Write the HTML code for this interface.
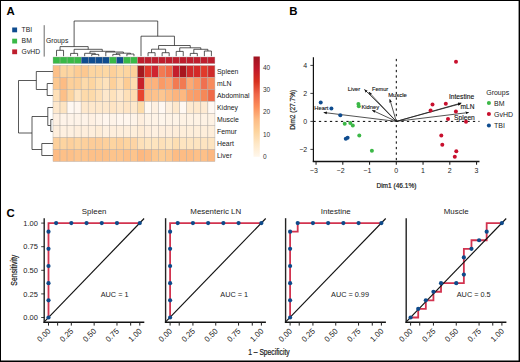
<!DOCTYPE html>
<html><head><meta charset="utf-8"><style>
html,body{margin:0;padding:0;background:#fff;}
#fig{position:relative;width:520px;height:362px;overflow:hidden;background:#fff;}
svg{position:absolute;left:0;top:0;font-family:"Liberation Sans", sans-serif;}
#bd{position:absolute;left:0;top:0;width:518px;height:360px;border:1px solid #000;box-shadow:inset -0.4px -0.4px 0 #000;}
</style></head><body><div id="fig">
<svg width="520" height="362" viewBox="0 0 520 362">
<rect x="53.00" y="57" width="7.04" height="6.6" fill="#39b947" stroke="#b4aea8" stroke-width="0.35"/>
<rect x="60.04" y="57" width="7.04" height="6.6" fill="#39b947" stroke="#b4aea8" stroke-width="0.35"/>
<rect x="67.08" y="57" width="7.04" height="6.6" fill="#39b947" stroke="#b4aea8" stroke-width="0.35"/>
<rect x="74.12" y="57" width="7.04" height="6.6" fill="#39b947" stroke="#b4aea8" stroke-width="0.35"/>
<rect x="81.16" y="57" width="7.04" height="6.6" fill="#0f4c8f" stroke="#b4aea8" stroke-width="0.35"/>
<rect x="88.20" y="57" width="7.04" height="6.6" fill="#0f4c8f" stroke="#b4aea8" stroke-width="0.35"/>
<rect x="95.24" y="57" width="7.04" height="6.6" fill="#0f4c8f" stroke="#b4aea8" stroke-width="0.35"/>
<rect x="102.28" y="57" width="7.04" height="6.6" fill="#0f4c8f" stroke="#b4aea8" stroke-width="0.35"/>
<rect x="109.32" y="57" width="7.04" height="6.6" fill="#39b947" stroke="#b4aea8" stroke-width="0.35"/>
<rect x="116.36" y="57" width="7.04" height="6.6" fill="#0f4c8f" stroke="#b4aea8" stroke-width="0.35"/>
<rect x="123.40" y="57" width="7.04" height="6.6" fill="#39b947" stroke="#b4aea8" stroke-width="0.35"/>
<rect x="130.44" y="57" width="7.04" height="6.6" fill="#39b947" stroke="#b4aea8" stroke-width="0.35"/>
<rect x="137.48" y="57" width="7.04" height="6.6" fill="#be1e2d" stroke="#b4aea8" stroke-width="0.35"/>
<rect x="144.52" y="57" width="7.04" height="6.6" fill="#be1e2d" stroke="#b4aea8" stroke-width="0.35"/>
<rect x="151.56" y="57" width="7.04" height="6.6" fill="#be1e2d" stroke="#b4aea8" stroke-width="0.35"/>
<rect x="158.60" y="57" width="7.04" height="6.6" fill="#be1e2d" stroke="#b4aea8" stroke-width="0.35"/>
<rect x="165.64" y="57" width="7.04" height="6.6" fill="#be1e2d" stroke="#b4aea8" stroke-width="0.35"/>
<rect x="172.68" y="57" width="7.04" height="6.6" fill="#be1e2d" stroke="#b4aea8" stroke-width="0.35"/>
<rect x="179.72" y="57" width="7.04" height="6.6" fill="#be1e2d" stroke="#b4aea8" stroke-width="0.35"/>
<rect x="186.76" y="57" width="7.04" height="6.6" fill="#be1e2d" stroke="#b4aea8" stroke-width="0.35"/>
<rect x="193.80" y="57" width="7.04" height="6.6" fill="#be1e2d" stroke="#b4aea8" stroke-width="0.35"/>
<rect x="200.84" y="57" width="7.04" height="6.6" fill="#be1e2d" stroke="#b4aea8" stroke-width="0.35"/>
<rect x="207.88" y="57" width="7.04" height="6.6" fill="#be1e2d" stroke="#b4aea8" stroke-width="0.35"/>
<rect x="53.00" y="65.50" width="7.04" height="12.0" fill="#fdc088" stroke="#b4aea8" stroke-width="0.45"/>
<rect x="60.04" y="65.50" width="7.04" height="12.0" fill="#fdd5a0" stroke="#b4aea8" stroke-width="0.45"/>
<rect x="67.08" y="65.50" width="7.04" height="12.0" fill="#fdd5a0" stroke="#b4aea8" stroke-width="0.45"/>
<rect x="74.12" y="65.50" width="7.04" height="12.0" fill="#fdcc94" stroke="#b4aea8" stroke-width="0.45"/>
<rect x="81.16" y="65.50" width="7.04" height="12.0" fill="#fdc890" stroke="#b4aea8" stroke-width="0.45"/>
<rect x="88.20" y="65.50" width="7.04" height="12.0" fill="#fdd5a0" stroke="#b4aea8" stroke-width="0.45"/>
<rect x="95.24" y="65.50" width="7.04" height="12.0" fill="#fdd5a0" stroke="#b4aea8" stroke-width="0.45"/>
<rect x="102.28" y="65.50" width="7.04" height="12.0" fill="#fdd8a4" stroke="#b4aea8" stroke-width="0.45"/>
<rect x="109.32" y="65.50" width="7.04" height="12.0" fill="#fdd09a" stroke="#b4aea8" stroke-width="0.45"/>
<rect x="116.36" y="65.50" width="7.04" height="12.0" fill="#fdd8a4" stroke="#b4aea8" stroke-width="0.45"/>
<rect x="123.40" y="65.50" width="7.04" height="12.0" fill="#fdd5a0" stroke="#b4aea8" stroke-width="0.45"/>
<rect x="130.44" y="65.50" width="7.04" height="12.0" fill="#fdd09a" stroke="#b4aea8" stroke-width="0.45"/>
<rect x="137.48" y="65.50" width="7.04" height="12.0" fill="#a31a1f" stroke="#b4aea8" stroke-width="0.45"/>
<rect x="144.52" y="65.50" width="7.04" height="12.0" fill="#e0392b" stroke="#b4aea8" stroke-width="0.45"/>
<rect x="151.56" y="65.50" width="7.04" height="12.0" fill="#d02530" stroke="#b4aea8" stroke-width="0.45"/>
<rect x="158.60" y="65.50" width="7.04" height="12.0" fill="#f27a52" stroke="#b4aea8" stroke-width="0.45"/>
<rect x="165.64" y="65.50" width="7.04" height="12.0" fill="#f06a48" stroke="#b4aea8" stroke-width="0.45"/>
<rect x="172.68" y="65.50" width="7.04" height="12.0" fill="#c41e2c" stroke="#b4aea8" stroke-width="0.45"/>
<rect x="179.72" y="65.50" width="7.04" height="12.0" fill="#a8161e" stroke="#b4aea8" stroke-width="0.45"/>
<rect x="186.76" y="65.50" width="7.04" height="12.0" fill="#d02a2a" stroke="#b4aea8" stroke-width="0.45"/>
<rect x="193.80" y="65.50" width="7.04" height="12.0" fill="#d42a28" stroke="#b4aea8" stroke-width="0.45"/>
<rect x="200.84" y="65.50" width="7.04" height="12.0" fill="#e03a2a" stroke="#b4aea8" stroke-width="0.45"/>
<rect x="207.88" y="65.50" width="7.04" height="12.0" fill="#d02a2a" stroke="#b4aea8" stroke-width="0.45"/>
<rect x="53.00" y="77.50" width="7.04" height="12.0" fill="#fdc890" stroke="#b4aea8" stroke-width="0.45"/>
<rect x="60.04" y="77.50" width="7.04" height="12.0" fill="#fdbc84" stroke="#b4aea8" stroke-width="0.45"/>
<rect x="67.08" y="77.50" width="7.04" height="12.0" fill="#fdd09a" stroke="#b4aea8" stroke-width="0.45"/>
<rect x="74.12" y="77.50" width="7.04" height="12.0" fill="#fdd09a" stroke="#b4aea8" stroke-width="0.45"/>
<rect x="81.16" y="77.50" width="7.04" height="12.0" fill="#fddaaa" stroke="#b4aea8" stroke-width="0.45"/>
<rect x="88.20" y="77.50" width="7.04" height="12.0" fill="#fdd5a0" stroke="#b4aea8" stroke-width="0.45"/>
<rect x="95.24" y="77.50" width="7.04" height="12.0" fill="#fedeb0" stroke="#b4aea8" stroke-width="0.45"/>
<rect x="102.28" y="77.50" width="7.04" height="12.0" fill="#fee2bc" stroke="#b4aea8" stroke-width="0.45"/>
<rect x="109.32" y="77.50" width="7.04" height="12.0" fill="#fdd09a" stroke="#b4aea8" stroke-width="0.45"/>
<rect x="116.36" y="77.50" width="7.04" height="12.0" fill="#fedcb0" stroke="#b4aea8" stroke-width="0.45"/>
<rect x="123.40" y="77.50" width="7.04" height="12.0" fill="#fdcc94" stroke="#b4aea8" stroke-width="0.45"/>
<rect x="130.44" y="77.50" width="7.04" height="12.0" fill="#fedcb0" stroke="#b4aea8" stroke-width="0.45"/>
<rect x="137.48" y="77.50" width="7.04" height="12.0" fill="#c8202a" stroke="#b4aea8" stroke-width="0.45"/>
<rect x="144.52" y="77.50" width="7.04" height="12.0" fill="#fdb27c" stroke="#b4aea8" stroke-width="0.45"/>
<rect x="151.56" y="77.50" width="7.04" height="12.0" fill="#fdb27c" stroke="#b4aea8" stroke-width="0.45"/>
<rect x="158.60" y="77.50" width="7.04" height="12.0" fill="#fa9a66" stroke="#b4aea8" stroke-width="0.45"/>
<rect x="165.64" y="77.50" width="7.04" height="12.0" fill="#fba470" stroke="#b4aea8" stroke-width="0.45"/>
<rect x="172.68" y="77.50" width="7.04" height="12.0" fill="#f27a52" stroke="#b4aea8" stroke-width="0.45"/>
<rect x="179.72" y="77.50" width="7.04" height="12.0" fill="#f27a52" stroke="#b4aea8" stroke-width="0.45"/>
<rect x="186.76" y="77.50" width="7.04" height="12.0" fill="#fcaa74" stroke="#b4aea8" stroke-width="0.45"/>
<rect x="193.80" y="77.50" width="7.04" height="12.0" fill="#fa9a66" stroke="#b4aea8" stroke-width="0.45"/>
<rect x="200.84" y="77.50" width="7.04" height="12.0" fill="#f07050" stroke="#b4aea8" stroke-width="0.45"/>
<rect x="207.88" y="77.50" width="7.04" height="12.0" fill="#f88a5c" stroke="#b4aea8" stroke-width="0.45"/>
<rect x="53.00" y="89.50" width="7.04" height="12.0" fill="#fee0b8" stroke="#b4aea8" stroke-width="0.45"/>
<rect x="60.04" y="89.50" width="7.04" height="12.0" fill="#fdc088" stroke="#b4aea8" stroke-width="0.45"/>
<rect x="67.08" y="89.50" width="7.04" height="12.0" fill="#fdd5a0" stroke="#b4aea8" stroke-width="0.45"/>
<rect x="74.12" y="89.50" width="7.04" height="12.0" fill="#fee4c0" stroke="#b4aea8" stroke-width="0.45"/>
<rect x="81.16" y="89.50" width="7.04" height="12.0" fill="#fddaaa" stroke="#b4aea8" stroke-width="0.45"/>
<rect x="88.20" y="89.50" width="7.04" height="12.0" fill="#fddaaa" stroke="#b4aea8" stroke-width="0.45"/>
<rect x="95.24" y="89.50" width="7.04" height="12.0" fill="#fee0b8" stroke="#b4aea8" stroke-width="0.45"/>
<rect x="102.28" y="89.50" width="7.04" height="12.0" fill="#fee8cc" stroke="#b4aea8" stroke-width="0.45"/>
<rect x="109.32" y="89.50" width="7.04" height="12.0" fill="#fee2bc" stroke="#b4aea8" stroke-width="0.45"/>
<rect x="116.36" y="89.50" width="7.04" height="12.0" fill="#fee8cc" stroke="#b4aea8" stroke-width="0.45"/>
<rect x="123.40" y="89.50" width="7.04" height="12.0" fill="#fee0b8" stroke="#b4aea8" stroke-width="0.45"/>
<rect x="130.44" y="89.50" width="7.04" height="12.0" fill="#fedcb0" stroke="#b4aea8" stroke-width="0.45"/>
<rect x="137.48" y="89.50" width="7.04" height="12.0" fill="#e8452f" stroke="#b4aea8" stroke-width="0.45"/>
<rect x="144.52" y="89.50" width="7.04" height="12.0" fill="#fdbf88" stroke="#b4aea8" stroke-width="0.45"/>
<rect x="151.56" y="89.50" width="7.04" height="12.0" fill="#fdc28c" stroke="#b4aea8" stroke-width="0.45"/>
<rect x="158.60" y="89.50" width="7.04" height="12.0" fill="#fdc690" stroke="#b4aea8" stroke-width="0.45"/>
<rect x="165.64" y="89.50" width="7.04" height="12.0" fill="#fdbd86" stroke="#b4aea8" stroke-width="0.45"/>
<rect x="172.68" y="89.50" width="7.04" height="12.0" fill="#fcb47e" stroke="#b4aea8" stroke-width="0.45"/>
<rect x="179.72" y="89.50" width="7.04" height="12.0" fill="#fdb880" stroke="#b4aea8" stroke-width="0.45"/>
<rect x="186.76" y="89.50" width="7.04" height="12.0" fill="#fba06a" stroke="#b4aea8" stroke-width="0.45"/>
<rect x="193.80" y="89.50" width="7.04" height="12.0" fill="#fa9c68" stroke="#b4aea8" stroke-width="0.45"/>
<rect x="200.84" y="89.50" width="7.04" height="12.0" fill="#f58858" stroke="#b4aea8" stroke-width="0.45"/>
<rect x="207.88" y="89.50" width="7.04" height="12.0" fill="#f06a48" stroke="#b4aea8" stroke-width="0.45"/>
<rect x="53.00" y="101.50" width="7.04" height="12.0" fill="#fee8cc" stroke="#b4aea8" stroke-width="0.45"/>
<rect x="60.04" y="101.50" width="7.04" height="12.0" fill="#fde4c2" stroke="#b4aea8" stroke-width="0.45"/>
<rect x="67.08" y="101.50" width="7.04" height="12.0" fill="#fff8f2" stroke="#b4aea8" stroke-width="0.45"/>
<rect x="74.12" y="101.50" width="7.04" height="12.0" fill="#fff6ee" stroke="#b4aea8" stroke-width="0.45"/>
<rect x="81.16" y="101.50" width="7.04" height="12.0" fill="#fee8cc" stroke="#b4aea8" stroke-width="0.45"/>
<rect x="88.20" y="101.50" width="7.04" height="12.0" fill="#fee8cc" stroke="#b4aea8" stroke-width="0.45"/>
<rect x="95.24" y="101.50" width="7.04" height="12.0" fill="#fee8cc" stroke="#b4aea8" stroke-width="0.45"/>
<rect x="102.28" y="101.50" width="7.04" height="12.0" fill="#fee8cc" stroke="#b4aea8" stroke-width="0.45"/>
<rect x="109.32" y="101.50" width="7.04" height="12.0" fill="#fee4c4" stroke="#b4aea8" stroke-width="0.45"/>
<rect x="116.36" y="101.50" width="7.04" height="12.0" fill="#fee8cc" stroke="#b4aea8" stroke-width="0.45"/>
<rect x="123.40" y="101.50" width="7.04" height="12.0" fill="#fee4c4" stroke="#b4aea8" stroke-width="0.45"/>
<rect x="130.44" y="101.50" width="7.04" height="12.0" fill="#fee8cc" stroke="#b4aea8" stroke-width="0.45"/>
<rect x="137.48" y="101.50" width="7.04" height="12.0" fill="#fddcaa" stroke="#b4aea8" stroke-width="0.45"/>
<rect x="144.52" y="101.50" width="7.04" height="12.0" fill="#fff8f0" stroke="#b4aea8" stroke-width="0.45"/>
<rect x="151.56" y="101.50" width="7.04" height="12.0" fill="#fef0e0" stroke="#b4aea8" stroke-width="0.45"/>
<rect x="158.60" y="101.50" width="7.04" height="12.0" fill="#fff8f2" stroke="#b4aea8" stroke-width="0.45"/>
<rect x="165.64" y="101.50" width="7.04" height="12.0" fill="#feefdd" stroke="#b4aea8" stroke-width="0.45"/>
<rect x="172.68" y="101.50" width="7.04" height="12.0" fill="#fee8cc" stroke="#b4aea8" stroke-width="0.45"/>
<rect x="179.72" y="101.50" width="7.04" height="12.0" fill="#fff8f2" stroke="#b4aea8" stroke-width="0.45"/>
<rect x="186.76" y="101.50" width="7.04" height="12.0" fill="#feead0" stroke="#b4aea8" stroke-width="0.45"/>
<rect x="193.80" y="101.50" width="7.04" height="12.0" fill="#fee8cc" stroke="#b4aea8" stroke-width="0.45"/>
<rect x="200.84" y="101.50" width="7.04" height="12.0" fill="#feead2" stroke="#b4aea8" stroke-width="0.45"/>
<rect x="207.88" y="101.50" width="7.04" height="12.0" fill="#fff8f2" stroke="#b4aea8" stroke-width="0.45"/>
<rect x="53.00" y="113.50" width="7.04" height="12.0" fill="#fef0e2" stroke="#b4aea8" stroke-width="0.45"/>
<rect x="60.04" y="113.50" width="7.04" height="12.0" fill="#fef3e8" stroke="#b4aea8" stroke-width="0.45"/>
<rect x="67.08" y="113.50" width="7.04" height="12.0" fill="#fef3e8" stroke="#b4aea8" stroke-width="0.45"/>
<rect x="74.12" y="113.50" width="7.04" height="12.0" fill="#fef3e8" stroke="#b4aea8" stroke-width="0.45"/>
<rect x="81.16" y="113.50" width="7.04" height="12.0" fill="#fef3e8" stroke="#b4aea8" stroke-width="0.45"/>
<rect x="88.20" y="113.50" width="7.04" height="12.0" fill="#fef0e2" stroke="#b4aea8" stroke-width="0.45"/>
<rect x="95.24" y="113.50" width="7.04" height="12.0" fill="#fef3e8" stroke="#b4aea8" stroke-width="0.45"/>
<rect x="102.28" y="113.50" width="7.04" height="12.0" fill="#fff6ee" stroke="#b4aea8" stroke-width="0.45"/>
<rect x="109.32" y="113.50" width="7.04" height="12.0" fill="#fef3e8" stroke="#b4aea8" stroke-width="0.45"/>
<rect x="116.36" y="113.50" width="7.04" height="12.0" fill="#fff6ee" stroke="#b4aea8" stroke-width="0.45"/>
<rect x="123.40" y="113.50" width="7.04" height="12.0" fill="#fff6ee" stroke="#b4aea8" stroke-width="0.45"/>
<rect x="130.44" y="113.50" width="7.04" height="12.0" fill="#fef3e8" stroke="#b4aea8" stroke-width="0.45"/>
<rect x="137.48" y="113.50" width="7.04" height="12.0" fill="#feeedd" stroke="#b4aea8" stroke-width="0.45"/>
<rect x="144.52" y="113.50" width="7.04" height="12.0" fill="#fef3e6" stroke="#b4aea8" stroke-width="0.45"/>
<rect x="151.56" y="113.50" width="7.04" height="12.0" fill="#fef3e6" stroke="#b4aea8" stroke-width="0.45"/>
<rect x="158.60" y="113.50" width="7.04" height="12.0" fill="#fef5ea" stroke="#b4aea8" stroke-width="0.45"/>
<rect x="165.64" y="113.50" width="7.04" height="12.0" fill="#fef3e6" stroke="#b4aea8" stroke-width="0.45"/>
<rect x="172.68" y="113.50" width="7.04" height="12.0" fill="#fef3e6" stroke="#b4aea8" stroke-width="0.45"/>
<rect x="179.72" y="113.50" width="7.04" height="12.0" fill="#fef2e4" stroke="#b4aea8" stroke-width="0.45"/>
<rect x="186.76" y="113.50" width="7.04" height="12.0" fill="#fef2e4" stroke="#b4aea8" stroke-width="0.45"/>
<rect x="193.80" y="113.50" width="7.04" height="12.0" fill="#fef2e4" stroke="#b4aea8" stroke-width="0.45"/>
<rect x="200.84" y="113.50" width="7.04" height="12.0" fill="#fef2e4" stroke="#b4aea8" stroke-width="0.45"/>
<rect x="207.88" y="113.50" width="7.04" height="12.0" fill="#fef2e4" stroke="#b4aea8" stroke-width="0.45"/>
<rect x="53.00" y="125.50" width="7.04" height="12.0" fill="#feeedc" stroke="#b4aea8" stroke-width="0.45"/>
<rect x="60.04" y="125.50" width="7.04" height="12.0" fill="#fef0e0" stroke="#b4aea8" stroke-width="0.45"/>
<rect x="67.08" y="125.50" width="7.04" height="12.0" fill="#fef0e0" stroke="#b4aea8" stroke-width="0.45"/>
<rect x="74.12" y="125.50" width="7.04" height="12.0" fill="#feeedc" stroke="#b4aea8" stroke-width="0.45"/>
<rect x="81.16" y="125.50" width="7.04" height="12.0" fill="#feeedc" stroke="#b4aea8" stroke-width="0.45"/>
<rect x="88.20" y="125.50" width="7.04" height="12.0" fill="#feeedc" stroke="#b4aea8" stroke-width="0.45"/>
<rect x="95.24" y="125.50" width="7.04" height="12.0" fill="#feecd6" stroke="#b4aea8" stroke-width="0.45"/>
<rect x="102.28" y="125.50" width="7.04" height="12.0" fill="#fef0e0" stroke="#b4aea8" stroke-width="0.45"/>
<rect x="109.32" y="125.50" width="7.04" height="12.0" fill="#feeedc" stroke="#b4aea8" stroke-width="0.45"/>
<rect x="116.36" y="125.50" width="7.04" height="12.0" fill="#feeedc" stroke="#b4aea8" stroke-width="0.45"/>
<rect x="123.40" y="125.50" width="7.04" height="12.0" fill="#feeedc" stroke="#b4aea8" stroke-width="0.45"/>
<rect x="130.44" y="125.50" width="7.04" height="12.0" fill="#feeeda" stroke="#b4aea8" stroke-width="0.45"/>
<rect x="137.48" y="125.50" width="7.04" height="12.0" fill="#feebd4" stroke="#b4aea8" stroke-width="0.45"/>
<rect x="144.52" y="125.50" width="7.04" height="12.0" fill="#feeedc" stroke="#b4aea8" stroke-width="0.45"/>
<rect x="151.56" y="125.50" width="7.04" height="12.0" fill="#fef0e0" stroke="#b4aea8" stroke-width="0.45"/>
<rect x="158.60" y="125.50" width="7.04" height="12.0" fill="#feeedc" stroke="#b4aea8" stroke-width="0.45"/>
<rect x="165.64" y="125.50" width="7.04" height="12.0" fill="#feeedc" stroke="#b4aea8" stroke-width="0.45"/>
<rect x="172.68" y="125.50" width="7.04" height="12.0" fill="#feedd9" stroke="#b4aea8" stroke-width="0.45"/>
<rect x="179.72" y="125.50" width="7.04" height="12.0" fill="#feeeda" stroke="#b4aea8" stroke-width="0.45"/>
<rect x="186.76" y="125.50" width="7.04" height="12.0" fill="#feeeda" stroke="#b4aea8" stroke-width="0.45"/>
<rect x="193.80" y="125.50" width="7.04" height="12.0" fill="#feeeda" stroke="#b4aea8" stroke-width="0.45"/>
<rect x="200.84" y="125.50" width="7.04" height="12.0" fill="#feeeda" stroke="#b4aea8" stroke-width="0.45"/>
<rect x="207.88" y="125.50" width="7.04" height="12.0" fill="#feeeda" stroke="#b4aea8" stroke-width="0.45"/>
<rect x="53.00" y="137.50" width="7.04" height="12.0" fill="#fdd09c" stroke="#b4aea8" stroke-width="0.45"/>
<rect x="60.04" y="137.50" width="7.04" height="12.0" fill="#fdd4a0" stroke="#b4aea8" stroke-width="0.45"/>
<rect x="67.08" y="137.50" width="7.04" height="12.0" fill="#fdd09c" stroke="#b4aea8" stroke-width="0.45"/>
<rect x="74.12" y="137.50" width="7.04" height="12.0" fill="#fdd4a0" stroke="#b4aea8" stroke-width="0.45"/>
<rect x="81.16" y="137.50" width="7.04" height="12.0" fill="#fdd09c" stroke="#b4aea8" stroke-width="0.45"/>
<rect x="88.20" y="137.50" width="7.04" height="12.0" fill="#fdcc98" stroke="#b4aea8" stroke-width="0.45"/>
<rect x="95.24" y="137.50" width="7.04" height="12.0" fill="#fdcc98" stroke="#b4aea8" stroke-width="0.45"/>
<rect x="102.28" y="137.50" width="7.04" height="12.0" fill="#fdd09c" stroke="#b4aea8" stroke-width="0.45"/>
<rect x="109.32" y="137.50" width="7.04" height="12.0" fill="#fdd4a0" stroke="#b4aea8" stroke-width="0.45"/>
<rect x="116.36" y="137.50" width="7.04" height="12.0" fill="#fdd09c" stroke="#b4aea8" stroke-width="0.45"/>
<rect x="123.40" y="137.50" width="7.04" height="12.0" fill="#fdd4a0" stroke="#b4aea8" stroke-width="0.45"/>
<rect x="130.44" y="137.50" width="7.04" height="12.0" fill="#fdd4a4" stroke="#b4aea8" stroke-width="0.45"/>
<rect x="137.48" y="137.50" width="7.04" height="12.0" fill="#fde0b8" stroke="#b4aea8" stroke-width="0.45"/>
<rect x="144.52" y="137.50" width="7.04" height="12.0" fill="#fde4be" stroke="#b4aea8" stroke-width="0.45"/>
<rect x="151.56" y="137.50" width="7.04" height="12.0" fill="#fde4be" stroke="#b4aea8" stroke-width="0.45"/>
<rect x="158.60" y="137.50" width="7.04" height="12.0" fill="#fde0b8" stroke="#b4aea8" stroke-width="0.45"/>
<rect x="165.64" y="137.50" width="7.04" height="12.0" fill="#fde4be" stroke="#b4aea8" stroke-width="0.45"/>
<rect x="172.68" y="137.50" width="7.04" height="12.0" fill="#fddeb2" stroke="#b4aea8" stroke-width="0.45"/>
<rect x="179.72" y="137.50" width="7.04" height="12.0" fill="#fde4c0" stroke="#b4aea8" stroke-width="0.45"/>
<rect x="186.76" y="137.50" width="7.04" height="12.0" fill="#fde4c0" stroke="#b4aea8" stroke-width="0.45"/>
<rect x="193.80" y="137.50" width="7.04" height="12.0" fill="#fde4c0" stroke="#b4aea8" stroke-width="0.45"/>
<rect x="200.84" y="137.50" width="7.04" height="12.0" fill="#fde4c0" stroke="#b4aea8" stroke-width="0.45"/>
<rect x="207.88" y="137.50" width="7.04" height="12.0" fill="#fde4c0" stroke="#b4aea8" stroke-width="0.45"/>
<rect x="53.00" y="149.50" width="7.04" height="12.0" fill="#fdbb84" stroke="#b4aea8" stroke-width="0.45"/>
<rect x="60.04" y="149.50" width="7.04" height="12.0" fill="#fdc088" stroke="#b4aea8" stroke-width="0.45"/>
<rect x="67.08" y="149.50" width="7.04" height="12.0" fill="#fdc088" stroke="#b4aea8" stroke-width="0.45"/>
<rect x="74.12" y="149.50" width="7.04" height="12.0" fill="#fdc48c" stroke="#b4aea8" stroke-width="0.45"/>
<rect x="81.16" y="149.50" width="7.04" height="12.0" fill="#fdc48c" stroke="#b4aea8" stroke-width="0.45"/>
<rect x="88.20" y="149.50" width="7.04" height="12.0" fill="#fdc088" stroke="#b4aea8" stroke-width="0.45"/>
<rect x="95.24" y="149.50" width="7.04" height="12.0" fill="#fdc088" stroke="#b4aea8" stroke-width="0.45"/>
<rect x="102.28" y="149.50" width="7.04" height="12.0" fill="#fdc088" stroke="#b4aea8" stroke-width="0.45"/>
<rect x="109.32" y="149.50" width="7.04" height="12.0" fill="#fdc48c" stroke="#b4aea8" stroke-width="0.45"/>
<rect x="116.36" y="149.50" width="7.04" height="12.0" fill="#fdc48c" stroke="#b4aea8" stroke-width="0.45"/>
<rect x="123.40" y="149.50" width="7.04" height="12.0" fill="#fdc088" stroke="#b4aea8" stroke-width="0.45"/>
<rect x="130.44" y="149.50" width="7.04" height="12.0" fill="#fdc48c" stroke="#b4aea8" stroke-width="0.45"/>
<rect x="137.48" y="149.50" width="7.04" height="12.0" fill="#fdb880" stroke="#b4aea8" stroke-width="0.45"/>
<rect x="144.52" y="149.50" width="7.04" height="12.0" fill="#fdbc84" stroke="#b4aea8" stroke-width="0.45"/>
<rect x="151.56" y="149.50" width="7.04" height="12.0" fill="#fdc890" stroke="#b4aea8" stroke-width="0.45"/>
<rect x="158.60" y="149.50" width="7.04" height="12.0" fill="#fdcc94" stroke="#b4aea8" stroke-width="0.45"/>
<rect x="165.64" y="149.50" width="7.04" height="12.0" fill="#fdc890" stroke="#b4aea8" stroke-width="0.45"/>
<rect x="172.68" y="149.50" width="7.04" height="12.0" fill="#fdbc84" stroke="#b4aea8" stroke-width="0.45"/>
<rect x="179.72" y="149.50" width="7.04" height="12.0" fill="#fdbc84" stroke="#b4aea8" stroke-width="0.45"/>
<rect x="186.76" y="149.50" width="7.04" height="12.0" fill="#fdbc84" stroke="#b4aea8" stroke-width="0.45"/>
<rect x="193.80" y="149.50" width="7.04" height="12.0" fill="#fdc088" stroke="#b4aea8" stroke-width="0.45"/>
<rect x="200.84" y="149.50" width="7.04" height="12.0" fill="#fdc088" stroke="#b4aea8" stroke-width="0.45"/>
<rect x="207.88" y="149.50" width="7.04" height="12.0" fill="#fdb880" stroke="#b4aea8" stroke-width="0.45"/>
<text x="217" y="73.9" font-size="6.9" text-anchor="start" fill="#1a1a1a" font-weight="normal" >Spleen</text>
<text x="217" y="85.9" font-size="6.9" text-anchor="start" fill="#1a1a1a" font-weight="normal" >mLN</text>
<text x="217" y="97.9" font-size="6.9" text-anchor="start" fill="#1a1a1a" font-weight="normal" >Abdominal</text>
<text x="217" y="109.9" font-size="6.9" text-anchor="start" fill="#1a1a1a" font-weight="normal" >Kidney</text>
<text x="217" y="121.9" font-size="6.9" text-anchor="start" fill="#1a1a1a" font-weight="normal" >Muscle</text>
<text x="217" y="133.9" font-size="6.9" text-anchor="start" fill="#1a1a1a" font-weight="normal" >Femur</text>
<text x="217" y="145.9" font-size="6.9" text-anchor="start" fill="#1a1a1a" font-weight="normal" >Heart</text>
<text x="217" y="157.9" font-size="6.9" text-anchor="start" fill="#1a1a1a" font-weight="normal" >Liver</text>
<defs><linearGradient id="cb" x1="0" y1="1" x2="0" y2="0"><stop offset="0" stop-color="#fff7ec"/><stop offset="0.125" stop-color="#fee8c8"/><stop offset="0.25" stop-color="#fdd49e"/><stop offset="0.375" stop-color="#fdbb84"/><stop offset="0.5" stop-color="#fc8d59"/><stop offset="0.625" stop-color="#ef6548"/><stop offset="0.75" stop-color="#d7301f"/><stop offset="0.875" stop-color="#c0182a"/><stop offset="1" stop-color="#9e1420"/></linearGradient></defs>
<rect x="253.5" y="56.5" width="6.3" height="100.3" fill="url(#cb)"/>
<text x="263" y="159.0" font-size="6.5" text-anchor="start" fill="#333" font-weight="normal" >0</text>
<text x="263" y="136.7" font-size="6.5" text-anchor="start" fill="#333" font-weight="normal" >10</text>
<text x="263" y="114.39999999999999" font-size="6.5" text-anchor="start" fill="#333" font-weight="normal" >20</text>
<text x="263" y="92.09999999999998" font-size="6.5" text-anchor="start" fill="#333" font-weight="normal" >30</text>
<text x="263" y="69.79999999999998" font-size="6.5" text-anchor="start" fill="#333" font-weight="normal" >40</text>
<rect x="12.2" y="27.5" width="4.9" height="4.8" fill="#0f4c8f"/>
<text x="21.6" y="32.2" font-size="6.8" text-anchor="start" fill="#222" font-weight="normal" >TBI</text>
<rect x="12.2" y="38.7" width="4.9" height="4.8" fill="#39b947"/>
<text x="21.6" y="43.400000000000006" font-size="6.8" text-anchor="start" fill="#222" font-weight="normal" >BM</text>
<rect x="12.2" y="49.4" width="4.9" height="4.8" fill="#be1e2d"/>
<text x="21.6" y="54.1" font-size="6.8" text-anchor="start" fill="#222" font-weight="normal" >GvHD</text>
<line x1="44.2" y1="25.2" x2="44.2" y2="56.6" stroke="#444" stroke-width="0.8" />
<text x="46" y="42.5" font-size="6.8" text-anchor="start" fill="#222" font-weight="normal" >Groups</text>
<path d="M56.52,56.20 L56.52,50.30 L63.56,50.30 L63.56,56.20" fill="none" stroke="#222" stroke-width="0.75"/>
<path d="M70.60,56.20 L70.60,53.40 L77.64,53.40 L77.64,56.20" fill="none" stroke="#222" stroke-width="0.75"/>
<path d="M91.72,56.20 L91.72,54.40 L98.76,54.40 L98.76,56.20" fill="none" stroke="#222" stroke-width="0.75"/>
<path d="M84.68,56.20 L84.68,53.30 L95.24,53.30 L95.24,54.40" fill="none" stroke="#222" stroke-width="0.75"/>
<path d="M112.84,56.20 L112.84,54.40 L119.88,54.40 L119.88,56.20" fill="none" stroke="#222" stroke-width="0.75"/>
<path d="M126.92,56.20 L126.92,54.00 L133.96,54.00 L133.96,56.20" fill="none" stroke="#222" stroke-width="0.75"/>
<path d="M116.36,54.40 L116.36,53.20 L130.44,53.20 L130.44,54.00" fill="none" stroke="#222" stroke-width="0.75"/>
<path d="M105.80,56.20 L105.80,52.00 L123.40,52.00 L123.40,53.20" fill="none" stroke="#222" stroke-width="0.75"/>
<path d="M89.96,53.30 L89.96,51.30 L114.60,51.30 L114.60,52.00" fill="none" stroke="#222" stroke-width="0.75"/>
<path d="M74.12,53.40 L74.12,49.30 L102.28,49.30 L102.28,51.30" fill="none" stroke="#222" stroke-width="0.75"/>
<path d="M60.04,50.30 L60.04,46.60 L88.20,46.60 L88.20,49.30" fill="none" stroke="#222" stroke-width="0.75"/>
<path d="M148.04,56.20 L148.04,52.70 L155.08,52.70 L155.08,56.20" fill="none" stroke="#222" stroke-width="0.75"/>
<path d="M162.12,56.20 L162.12,52.70 L169.16,52.70 L169.16,56.20" fill="none" stroke="#222" stroke-width="0.75"/>
<path d="M151.56,52.70 L151.56,49.20 L165.64,49.20 L165.64,52.70" fill="none" stroke="#222" stroke-width="0.75"/>
<path d="M176.20,56.20 L176.20,51.40 L183.24,51.40 L183.24,56.20" fill="none" stroke="#222" stroke-width="0.75"/>
<path d="M190.28,56.20 L190.28,53.40 L197.32,53.40 L197.32,56.20" fill="none" stroke="#222" stroke-width="0.75"/>
<path d="M204.36,56.20 L204.36,51.00 L211.40,51.00 L211.40,56.20" fill="none" stroke="#222" stroke-width="0.75"/>
<path d="M193.80,53.40 L193.80,49.30 L207.88,49.30 L207.88,51.00" fill="none" stroke="#222" stroke-width="0.75"/>
<path d="M179.72,51.40 L179.72,47.80 L200.84,47.80 L200.84,49.30" fill="none" stroke="#222" stroke-width="0.75"/>
<path d="M158.60,49.20 L158.60,45.50 L190.28,45.50 L190.28,47.80" fill="none" stroke="#222" stroke-width="0.75"/>
<path d="M141.00,56.20 L141.00,36.20 L174.44,36.20 L174.44,45.50" fill="none" stroke="#222" stroke-width="0.75"/>
<path d="M74.12,46.60 L74.12,21.00 L157.72,21.00 L157.72,36.20" fill="none" stroke="#222" stroke-width="0.75"/>
<path d="M53.00,83.50 L47.20,83.50 L47.20,95.50 L53.00,95.50" fill="none" stroke="#222" stroke-width="0.75"/>
<path d="M53.00,71.50 L36.30,71.50 L36.30,89.50 L47.20,89.50" fill="none" stroke="#222" stroke-width="0.75"/>
<path d="M53.00,119.50 L50.80,119.50 L50.80,131.50 L53.00,131.50" fill="none" stroke="#222" stroke-width="0.75"/>
<path d="M53.00,107.50 L47.80,107.50 L47.80,125.50 L50.80,125.50" fill="none" stroke="#222" stroke-width="0.75"/>
<path d="M53.00,143.50 L41.80,143.50 L41.80,155.50 L53.00,155.50" fill="none" stroke="#222" stroke-width="0.75"/>
<path d="M47.80,116.50 L32.00,116.50 L32.00,149.50 L41.80,149.50" fill="none" stroke="#222" stroke-width="0.75"/>
<path d="M36.30,80.50 L18.50,80.50 L18.50,133.00 L32.00,133.00" fill="none" stroke="#222" stroke-width="0.75"/>
<text x="6.4" y="15.1" font-size="11.4" text-anchor="start" fill="#000" font-weight="bold" >A</text>
<text x="289.2" y="14.7" font-size="11.4" text-anchor="start" fill="#000" font-weight="bold" >B</text>
<text x="6.4" y="216.7" font-size="11.4" text-anchor="start" fill="#000" font-weight="bold" >C</text>
<line x1="313.4" y1="121.4" x2="479.5" y2="121.4" stroke="#000" stroke-width="1.0" stroke-dasharray="2.3 3.2"/>
<line x1="396.3" y1="58.9" x2="396.3" y2="161.2" stroke="#000" stroke-width="1.0" stroke-dasharray="2.3 3.2"/>
<line x1="313.4" y1="57.3" x2="313.4" y2="162.1" stroke="#111" stroke-width="1.2" />
<line x1="312.8" y1="161.5" x2="479.5" y2="161.5" stroke="#111" stroke-width="1.3" />
<line x1="310.4" y1="65.4" x2="313.4" y2="65.4" stroke="#111" stroke-width="0.8" />
<text x="307.2" y="67.9" font-size="7.0" text-anchor="end" fill="#222" font-weight="normal" >4</text>
<line x1="310.4" y1="93.4" x2="313.4" y2="93.4" stroke="#111" stroke-width="0.8" />
<text x="307.2" y="95.9" font-size="7.0" text-anchor="end" fill="#222" font-weight="normal" >2</text>
<line x1="310.4" y1="121.4" x2="313.4" y2="121.4" stroke="#111" stroke-width="0.8" />
<text x="307.2" y="123.9" font-size="7.0" text-anchor="end" fill="#222" font-weight="normal" >0</text>
<line x1="310.4" y1="149.4" x2="313.4" y2="149.4" stroke="#111" stroke-width="0.8" />
<text x="307.2" y="151.9" font-size="7.0" text-anchor="end" fill="#222" font-weight="normal" >&#8722;2</text>
<line x1="316.05" y1="161.5" x2="316.05" y2="164.8" stroke="#222" stroke-width="1.1" />
<text x="313.85" y="173.2" font-size="7.0" text-anchor="middle" fill="#222" font-weight="normal" >&#8722;3</text>
<line x1="342.8" y1="161.5" x2="342.8" y2="164.8" stroke="#222" stroke-width="1.1" />
<text x="340.6" y="173.2" font-size="7.0" text-anchor="middle" fill="#222" font-weight="normal" >&#8722;2</text>
<line x1="369.55" y1="161.5" x2="369.55" y2="164.8" stroke="#222" stroke-width="1.1" />
<text x="367.35" y="173.2" font-size="7.0" text-anchor="middle" fill="#222" font-weight="normal" >&#8722;1</text>
<line x1="396.3" y1="161.5" x2="396.3" y2="164.8" stroke="#222" stroke-width="1.1" />
<text x="396.3" y="173.2" font-size="7.0" text-anchor="middle" fill="#222" font-weight="normal" >0</text>
<line x1="423.05" y1="161.5" x2="423.05" y2="164.8" stroke="#222" stroke-width="1.1" />
<text x="423.05" y="173.2" font-size="7.0" text-anchor="middle" fill="#222" font-weight="normal" >1</text>
<line x1="449.8" y1="161.5" x2="449.8" y2="164.8" stroke="#222" stroke-width="1.1" />
<text x="449.8" y="173.2" font-size="7.0" text-anchor="middle" fill="#222" font-weight="normal" >2</text>
<line x1="476.55" y1="161.5" x2="476.55" y2="164.8" stroke="#222" stroke-width="1.1" />
<text x="476.55" y="173.2" font-size="7.0" text-anchor="middle" fill="#222" font-weight="normal" >3</text>
<text transform="translate(396.4,187.8) scale(0.84,1)" font-size="7.8" text-anchor="middle" stroke="#1a1a1a" stroke-width="0.22" fill="#1a1a1a">Dim1 (46.1%)</text>
<text transform="translate(294.6,109.8) rotate(-90) scale(0.84,1)" font-size="7.8" text-anchor="middle" stroke="#1a1a1a" stroke-width="0.22" fill="#1a1a1a">Dim2 (27.7%)</text>
<defs><marker id="ah" viewBox="0 0 10 10" refX="9" refY="5" markerWidth="3.4" markerHeight="3.4" orient="auto" markerUnits="userSpaceOnUse"><path d="M0,1 L10,5 L0,9 z" fill="#111"/></marker></defs>
<line x1="396.3" y1="121.4" x2="323.8" y2="112.5" stroke="#1a1a1a" stroke-width="0.75" marker-end="url(#ah)"/>
<line x1="396.3" y1="121.4" x2="364.5" y2="89.5" stroke="#1a1a1a" stroke-width="0.75" marker-end="url(#ah)"/>
<line x1="396.3" y1="121.4" x2="368.8" y2="92.1" stroke="#1a1a1a" stroke-width="0.75" marker-end="url(#ah)"/>
<line x1="396.3" y1="121.4" x2="372.3" y2="110.3" stroke="#1a1a1a" stroke-width="0.75" marker-end="url(#ah)"/>
<line x1="396.3" y1="121.4" x2="389.8" y2="99.4" stroke="#1a1a1a" stroke-width="0.75" marker-end="url(#ah)"/>
<line x1="396.3" y1="121.4" x2="461.3" y2="103.0" stroke="#1a1a1a" stroke-width="0.75" marker-end="url(#ah)"/>
<line x1="396.3" y1="121.4" x2="461.0" y2="103.6" stroke="#1a1a1a" stroke-width="0.75" marker-end="url(#ah)"/>
<line x1="396.3" y1="121.4" x2="468.6" y2="112.5" stroke="#1a1a1a" stroke-width="0.75" marker-end="url(#ah)"/>
<text x="314.3" y="109.8" font-size="5.8" text-anchor="start" fill="#111" font-weight="normal" stroke="#111" stroke-width="0.12">Heart</text>
<text x="347.7" y="91.2" font-size="5.8" text-anchor="start" fill="#111" font-weight="normal" stroke="#111" stroke-width="0.12">Liver</text>
<text x="372" y="90.7" font-size="5.6" text-anchor="start" fill="#111" font-weight="normal" stroke="#111" stroke-width="0.12">Femur</text>
<text x="361.4" y="108.5" font-size="5.8" text-anchor="start" fill="#111" font-weight="normal" stroke="#111" stroke-width="0.12">Kidney</text>
<text x="388.2" y="97.3" font-size="5.9" text-anchor="start" fill="#111" font-weight="normal" stroke="#111" stroke-width="0.12">Muscle</text>
<text x="448.9" y="99.2" font-size="6.7" text-anchor="start" fill="#111" font-weight="normal" stroke="#111" stroke-width="0.12">Intestine</text>
<text x="460.5" y="108.6" font-size="6.6" text-anchor="start" fill="#111" font-weight="normal" stroke="#111" stroke-width="0.12">mLN</text>
<text x="454" y="119.5" font-size="6.7" text-anchor="start" fill="#111" font-weight="normal" stroke="#111" stroke-width="0.12">Spleen</text>
<circle cx="320.7" cy="102.5" r="2.0" fill="#0f4c8f"/>
<circle cx="331.4" cy="108.5" r="2.0" fill="#0f4c8f"/>
<circle cx="340.3" cy="115.3" r="2.0" fill="#0f4c8f"/>
<circle cx="345.8" cy="138.7" r="2.0" fill="#0f4c8f"/>
<circle cx="347.6" cy="137.8" r="2.0" fill="#0f4c8f"/>
<circle cx="358.4" cy="104" r="2.0" fill="#3cb847"/>
<circle cx="358.8" cy="106.2" r="2.0" fill="#3cb847"/>
<circle cx="344.7" cy="123.8" r="2.0" fill="#3cb847"/>
<circle cx="350.3" cy="122.9" r="2.0" fill="#3cb847"/>
<circle cx="352.8" cy="125.6" r="2.0" fill="#3cb847"/>
<circle cx="359.3" cy="135.5" r="2.0" fill="#3cb847"/>
<circle cx="371.9" cy="150.8" r="2.0" fill="#3cb847"/>
<circle cx="456" cy="61.7" r="2.0" fill="#c8102e"/>
<circle cx="432.5" cy="104.5" r="2.0" fill="#c8102e"/>
<circle cx="445.8" cy="103.7" r="2.0" fill="#c8102e"/>
<circle cx="430.6" cy="110.5" r="2.0" fill="#c8102e"/>
<circle cx="455.9" cy="111.5" r="2.0" fill="#c8102e"/>
<circle cx="448" cy="119" r="2.0" fill="#c8102e"/>
<circle cx="466" cy="121.7" r="2.0" fill="#c8102e"/>
<circle cx="441.3" cy="135.5" r="2.0" fill="#c8102e"/>
<circle cx="442.3" cy="144.8" r="2.0" fill="#c8102e"/>
<circle cx="456.3" cy="151.3" r="2.0" fill="#c8102e"/>
<circle cx="454.8" cy="156.8" r="2.0" fill="#c8102e"/>
<text x="486.2" y="94.9" font-size="7.0" text-anchor="start" fill="#222" font-weight="normal" >Groups</text>
<circle cx="488.9" cy="103" r="2.05" fill="#3cb847"/>
<text x="494" y="105.5" font-size="7.0" text-anchor="start" fill="#222" font-weight="normal" >BM</text>
<circle cx="488.9" cy="114" r="2.05" fill="#c8102e"/>
<text x="494" y="116.5" font-size="7.0" text-anchor="start" fill="#222" font-weight="normal" >GvHD</text>
<circle cx="488.9" cy="125.5" r="2.05" fill="#0f4c8f"/>
<text x="494" y="128.0" font-size="7.0" text-anchor="start" fill="#222" font-weight="normal" >TBI</text>
<path d="M48.50,317.50 L48.50,223.10 L139.80,223.10" fill="none" stroke="#d2334f" stroke-width="1.8" stroke-linejoin="miter"/>
<line x1="44.5" y1="321.6" x2="144.10000000000002" y2="218.5" stroke="#111" stroke-width="1.15"/>
<circle cx="48.50" cy="317.50" r="2.1" fill="#0f4a8a"/>
<circle cx="48.50" cy="300.34" r="2.1" fill="#0f4a8a"/>
<circle cx="48.50" cy="283.17" r="2.1" fill="#0f4a8a"/>
<circle cx="48.50" cy="266.01" r="2.1" fill="#0f4a8a"/>
<circle cx="48.50" cy="248.85" r="2.1" fill="#0f4a8a"/>
<circle cx="48.50" cy="231.68" r="2.1" fill="#0f4a8a"/>
<circle cx="56.11" cy="223.10" r="2.1" fill="#0f4a8a"/>
<circle cx="71.33" cy="223.10" r="2.1" fill="#0f4a8a"/>
<circle cx="86.54" cy="223.10" r="2.1" fill="#0f4a8a"/>
<circle cx="101.76" cy="223.10" r="2.1" fill="#0f4a8a"/>
<circle cx="116.97" cy="223.10" r="2.1" fill="#0f4a8a"/>
<circle cx="139.80" cy="223.10" r="2.1" fill="#0f4a8a"/>
<line x1="44.2" y1="218.2" x2="44.2" y2="323.0" stroke="#222" stroke-width="1.4" />
<line x1="43.5" y1="322.3" x2="144.3" y2="322.3" stroke="#111" stroke-width="1.5" />
<line x1="48.5" y1="322" x2="48.5" y2="325.6" stroke="#222" stroke-width="1.0" />
<line x1="57.63" y1="322" x2="57.63" y2="325.6" stroke="#222" stroke-width="1.0" />
<line x1="71.325" y1="322" x2="71.325" y2="325.6" stroke="#222" stroke-width="1.0" />
<line x1="94.15" y1="322" x2="94.15" y2="325.6" stroke="#222" stroke-width="1.0" />
<line x1="116.975" y1="322" x2="116.975" y2="325.6" stroke="#222" stroke-width="1.0" />
<line x1="130.67000000000002" y1="322" x2="130.67000000000002" y2="325.6" stroke="#222" stroke-width="1.0" />
<line x1="139.8" y1="322" x2="139.8" y2="325.6" stroke="#222" stroke-width="1.0" />
<text transform="translate(51.10,331.6) rotate(-45)" font-size="7.9" text-anchor="end" fill="#222">0.00</text>
<text transform="translate(73.92,331.6) rotate(-45)" font-size="7.9" text-anchor="end" fill="#222">0.25</text>
<text transform="translate(96.75,331.6) rotate(-45)" font-size="7.9" text-anchor="end" fill="#222">0.50</text>
<text transform="translate(119.57,331.6) rotate(-45)" font-size="7.9" text-anchor="end" fill="#222">0.75</text>
<text transform="translate(142.40,331.6) rotate(-45)" font-size="7.9" text-anchor="end" fill="#222">1.00</text>
<line x1="41.2" y1="317.5" x2="44.2" y2="317.5" stroke="#111" stroke-width="0.8" />
<line x1="41.2" y1="293.9" x2="44.2" y2="293.9" stroke="#111" stroke-width="0.8" />
<line x1="41.2" y1="270.3" x2="44.2" y2="270.3" stroke="#111" stroke-width="0.8" />
<line x1="41.2" y1="246.7" x2="44.2" y2="246.7" stroke="#111" stroke-width="0.8" />
<line x1="41.2" y1="223.1" x2="44.2" y2="223.1" stroke="#111" stroke-width="0.8" />
<text x="94.15" y="214.1" font-size="7.9" text-anchor="middle" fill="#222" font-weight="normal" >Spleen</text>
<text x="114.6" y="297.4" font-size="7.3" text-anchor="middle" fill="#222" font-weight="normal" >AUC = 1</text>
<path d="M170.10,317.50 L170.10,223.10 L261.40,223.10" fill="none" stroke="#d2334f" stroke-width="1.8" stroke-linejoin="miter"/>
<line x1="165.9" y1="321.6" x2="265.7" y2="218.5" stroke="#111" stroke-width="1.15"/>
<circle cx="170.10" cy="317.50" r="2.1" fill="#0f4a8a"/>
<circle cx="170.10" cy="300.34" r="2.1" fill="#0f4a8a"/>
<circle cx="170.10" cy="283.17" r="2.1" fill="#0f4a8a"/>
<circle cx="170.10" cy="266.01" r="2.1" fill="#0f4a8a"/>
<circle cx="170.10" cy="248.85" r="2.1" fill="#0f4a8a"/>
<circle cx="170.10" cy="231.68" r="2.1" fill="#0f4a8a"/>
<circle cx="177.71" cy="223.10" r="2.1" fill="#0f4a8a"/>
<circle cx="192.92" cy="223.10" r="2.1" fill="#0f4a8a"/>
<circle cx="208.14" cy="223.10" r="2.1" fill="#0f4a8a"/>
<circle cx="223.36" cy="223.10" r="2.1" fill="#0f4a8a"/>
<circle cx="238.57" cy="223.10" r="2.1" fill="#0f4a8a"/>
<circle cx="261.40" cy="223.10" r="2.1" fill="#0f4a8a"/>
<line x1="165.6" y1="218.2" x2="165.6" y2="323.0" stroke="#222" stroke-width="1.4" />
<line x1="164.9" y1="322.3" x2="265.9" y2="322.3" stroke="#111" stroke-width="1.5" />
<line x1="170.1" y1="322" x2="170.1" y2="325.6" stroke="#222" stroke-width="1.0" />
<line x1="179.23" y1="322" x2="179.23" y2="325.6" stroke="#222" stroke-width="1.0" />
<line x1="192.92499999999998" y1="322" x2="192.92499999999998" y2="325.6" stroke="#222" stroke-width="1.0" />
<line x1="215.75" y1="322" x2="215.75" y2="325.6" stroke="#222" stroke-width="1.0" />
<line x1="238.575" y1="322" x2="238.575" y2="325.6" stroke="#222" stroke-width="1.0" />
<line x1="252.26999999999998" y1="322" x2="252.26999999999998" y2="325.6" stroke="#222" stroke-width="1.0" />
<line x1="261.4" y1="322" x2="261.4" y2="325.6" stroke="#222" stroke-width="1.0" />
<text transform="translate(172.70,331.6) rotate(-45)" font-size="7.9" text-anchor="end" fill="#222">0.00</text>
<text transform="translate(195.52,331.6) rotate(-45)" font-size="7.9" text-anchor="end" fill="#222">0.25</text>
<text transform="translate(218.35,331.6) rotate(-45)" font-size="7.9" text-anchor="end" fill="#222">0.50</text>
<text transform="translate(241.17,331.6) rotate(-45)" font-size="7.9" text-anchor="end" fill="#222">0.75</text>
<text transform="translate(264.00,331.6) rotate(-45)" font-size="7.9" text-anchor="end" fill="#222">1.00</text>
<text x="215.75" y="214.1" font-size="7.9" text-anchor="middle" fill="#222" font-weight="normal" >Mesenteric LN</text>
<text x="234.2" y="297.4" font-size="7.3" text-anchor="middle" fill="#222" font-weight="normal" >AUC = 1</text>
<path d="M290.10,317.50 L290.10,231.68 L297.71,231.68 L297.71,223.10 L381.40,223.10" fill="none" stroke="#d2334f" stroke-width="1.8" stroke-linejoin="miter"/>
<line x1="285.90000000000003" y1="321.6" x2="385.70000000000005" y2="218.5" stroke="#111" stroke-width="1.15"/>
<circle cx="290.10" cy="317.50" r="2.1" fill="#0f4a8a"/>
<circle cx="290.10" cy="300.34" r="2.1" fill="#0f4a8a"/>
<circle cx="290.10" cy="283.17" r="2.1" fill="#0f4a8a"/>
<circle cx="290.10" cy="266.01" r="2.1" fill="#0f4a8a"/>
<circle cx="290.10" cy="248.85" r="2.1" fill="#0f4a8a"/>
<circle cx="290.10" cy="231.68" r="2.1" fill="#0f4a8a"/>
<circle cx="297.71" cy="223.10" r="2.1" fill="#0f4a8a"/>
<circle cx="312.93" cy="223.10" r="2.1" fill="#0f4a8a"/>
<circle cx="328.14" cy="223.10" r="2.1" fill="#0f4a8a"/>
<circle cx="343.36" cy="223.10" r="2.1" fill="#0f4a8a"/>
<circle cx="358.58" cy="223.10" r="2.1" fill="#0f4a8a"/>
<circle cx="381.40" cy="223.10" r="2.1" fill="#0f4a8a"/>
<line x1="285.6" y1="218.2" x2="285.6" y2="323.0" stroke="#222" stroke-width="1.4" />
<line x1="284.90000000000003" y1="322.3" x2="385.90000000000003" y2="322.3" stroke="#111" stroke-width="1.5" />
<line x1="290.1" y1="322" x2="290.1" y2="325.6" stroke="#222" stroke-width="1.0" />
<line x1="299.23" y1="322" x2="299.23" y2="325.6" stroke="#222" stroke-width="1.0" />
<line x1="312.925" y1="322" x2="312.925" y2="325.6" stroke="#222" stroke-width="1.0" />
<line x1="335.75" y1="322" x2="335.75" y2="325.6" stroke="#222" stroke-width="1.0" />
<line x1="358.57500000000005" y1="322" x2="358.57500000000005" y2="325.6" stroke="#222" stroke-width="1.0" />
<line x1="372.27000000000004" y1="322" x2="372.27000000000004" y2="325.6" stroke="#222" stroke-width="1.0" />
<line x1="381.40000000000003" y1="322" x2="381.40000000000003" y2="325.6" stroke="#222" stroke-width="1.0" />
<text transform="translate(292.70,331.6) rotate(-45)" font-size="7.9" text-anchor="end" fill="#222">0.00</text>
<text transform="translate(315.53,331.6) rotate(-45)" font-size="7.9" text-anchor="end" fill="#222">0.25</text>
<text transform="translate(338.35,331.6) rotate(-45)" font-size="7.9" text-anchor="end" fill="#222">0.50</text>
<text transform="translate(361.18,331.6) rotate(-45)" font-size="7.9" text-anchor="end" fill="#222">0.75</text>
<text transform="translate(384.00,331.6) rotate(-45)" font-size="7.9" text-anchor="end" fill="#222">1.00</text>
<text x="335.75" y="214.1" font-size="7.9" text-anchor="middle" fill="#222" font-weight="normal" >Intestine</text>
<text x="350.0" y="297.4" font-size="7.3" text-anchor="middle" fill="#222" font-weight="normal" >AUC = 0.99</text>
<path d="M410.60,317.50 L418.21,317.50 L418.21,308.92 L425.82,308.92 L425.82,300.34 L433.43,300.34 L433.43,291.75 L441.03,291.75 L441.03,283.17 L463.86,283.17 L463.86,248.85 L471.47,248.85 L471.47,240.26 L486.68,240.26 L486.68,223.10 L501.90,223.10" fill="none" stroke="#d2334f" stroke-width="1.8" stroke-linejoin="miter"/>
<line x1="406.5" y1="321.6" x2="506.20000000000005" y2="218.5" stroke="#111" stroke-width="1.15"/>
<circle cx="410.60" cy="317.50" r="2.1" fill="#0f4a8a"/>
<circle cx="418.21" cy="308.92" r="2.1" fill="#0f4a8a"/>
<circle cx="425.82" cy="300.34" r="2.1" fill="#0f4a8a"/>
<circle cx="433.43" cy="291.75" r="2.1" fill="#0f4a8a"/>
<circle cx="441.03" cy="283.17" r="2.1" fill="#0f4a8a"/>
<circle cx="456.25" cy="283.17" r="2.1" fill="#0f4a8a"/>
<circle cx="463.86" cy="274.59" r="2.1" fill="#0f4a8a"/>
<circle cx="463.86" cy="257.43" r="2.1" fill="#0f4a8a"/>
<circle cx="471.47" cy="248.85" r="2.1" fill="#0f4a8a"/>
<circle cx="479.08" cy="240.26" r="2.1" fill="#0f4a8a"/>
<circle cx="486.68" cy="231.68" r="2.1" fill="#0f4a8a"/>
<circle cx="501.90" cy="223.10" r="2.1" fill="#0f4a8a"/>
<line x1="406.2" y1="218.2" x2="406.2" y2="323.0" stroke="#222" stroke-width="1.4" />
<line x1="405.5" y1="322.3" x2="506.40000000000003" y2="322.3" stroke="#111" stroke-width="1.5" />
<line x1="410.6" y1="322" x2="410.6" y2="325.6" stroke="#222" stroke-width="1.0" />
<line x1="419.73" y1="322" x2="419.73" y2="325.6" stroke="#222" stroke-width="1.0" />
<line x1="433.425" y1="322" x2="433.425" y2="325.6" stroke="#222" stroke-width="1.0" />
<line x1="456.25" y1="322" x2="456.25" y2="325.6" stroke="#222" stroke-width="1.0" />
<line x1="479.07500000000005" y1="322" x2="479.07500000000005" y2="325.6" stroke="#222" stroke-width="1.0" />
<line x1="492.77000000000004" y1="322" x2="492.77000000000004" y2="325.6" stroke="#222" stroke-width="1.0" />
<line x1="501.90000000000003" y1="322" x2="501.90000000000003" y2="325.6" stroke="#222" stroke-width="1.0" />
<text transform="translate(413.20,331.6) rotate(-45)" font-size="7.9" text-anchor="end" fill="#222">0.00</text>
<text transform="translate(436.03,331.6) rotate(-45)" font-size="7.9" text-anchor="end" fill="#222">0.25</text>
<text transform="translate(458.85,331.6) rotate(-45)" font-size="7.9" text-anchor="end" fill="#222">0.50</text>
<text transform="translate(481.68,331.6) rotate(-45)" font-size="7.9" text-anchor="end" fill="#222">0.75</text>
<text transform="translate(504.50,331.6) rotate(-45)" font-size="7.9" text-anchor="end" fill="#222">1.00</text>
<text x="456.25" y="214.1" font-size="7.9" text-anchor="middle" fill="#222" font-weight="normal" >Muscle</text>
<text x="473.7" y="297.4" font-size="7.3" text-anchor="middle" fill="#222" font-weight="normal" >AUC = 0.5</text>
<text x="37.9" y="320.1" font-size="7.5" text-anchor="end" fill="#222" font-weight="normal" >0.00</text>
<text x="37.9" y="296.5" font-size="7.5" text-anchor="end" fill="#222" font-weight="normal" >0.25</text>
<text x="37.9" y="272.90000000000003" font-size="7.5" text-anchor="end" fill="#222" font-weight="normal" >0.50</text>
<text x="37.9" y="249.29999999999998" font-size="7.5" text-anchor="end" fill="#222" font-weight="normal" >0.75</text>
<text x="37.9" y="225.7" font-size="7.5" text-anchor="end" fill="#222" font-weight="normal" >1.00</text>
<text transform="translate(17.4,270.2) rotate(-90) scale(0.84,1)" font-size="8.2" text-anchor="middle" stroke="#1a1a1a" stroke-width="0.22" fill="#1a1a1a">Sensitivity</text>
<text transform="translate(268.9,355.3) scale(0.8,1)" font-size="8.4" text-anchor="middle" stroke="#1a1a1a" stroke-width="0.22" fill="#222">1 &#8211; Specificity</text>
</svg>
<div id="bd"></div>
</div></body></html>
